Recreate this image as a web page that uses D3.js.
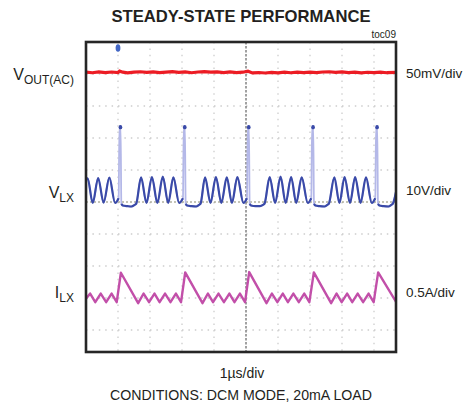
<!DOCTYPE html>
<html lang="en">
  <head>
    <meta charset="utf-8" />
    <title>Steady-State Performance</title>
    <style>
      body { margin: 0; background: #fff; }
      svg { display: block; font-family: "Liberation Sans", Arial, sans-serif; }
    </style>
  </head>
  <body>
    <script src="https://d3js.org/d3.v7.min.js"></script>
    <div id="scope"></div>
    <script>
      // channel labels and settings
      const perDiv = ["50mV/div", "10V/div", "0.5A/div"];
      const timeLabel = "1\u00b5s/div";
      const conditions = "CONDITIONS: DCM MODE, 20mA LOAD";
      const triggerTime = 1.0; // us

      // VOUT(AC): [time us, mV]
      const voutData = [
        [0, 0.5], [0.2, -0.5], [0.4, 0.8], [0.6, -0.3], [0.8, 0.6], [1.0, -0.2],
        [1.05, 2.0], [1.15, 0.3], [1.3, -0.6], [1.5, 0.4], [1.7, 1.0], [1.9, 0.2],
        [2.1, 0.9], [2.3, -0.4], [2.5, 0.5], [2.7, 1.1], [2.9, 0.0], [3.1, 0.8],
        [3.3, -0.5], [3.5, 0.6], [3.7, 1.2], [3.9, 0.3], [4.1, 0.9], [4.3, -0.2],
        [4.5, 0.7], [4.7, -0.4], [4.9, 0.3], [5.06, 1.8], [5.2, -0.8], [5.4, -0.2],
        [5.6, -0.9], [5.8, 0.1], [6.0, -0.6], [6.2, 0.3], [6.4, -0.5], [6.6, 0.4],
        [6.8, -0.3], [7.0, 0.5], [7.2, -0.4], [7.4, 0.6], [7.6, 1.0], [7.8, 0.2],
        [8.0, 0.8], [8.2, -0.3], [8.4, 0.5], [8.6, -0.6], [8.8, 0.2], [9.0, -0.4],
        [9.2, 0.3], [9.4, -0.5], [9.69, 0.2]
      ];

      // VLX: [time us, V]
      const vlxData = [
        [0, 7.2], [0.05, 7.7], [0.21, 0], [0.38, 7.8], [0.55, 0.1], [0.73, 7.9], [0.91, 0],
        [1.02, 1.5], [1.045, 24], [1.08, 24], [1.105, -0.3], [1.15, -0.8], [1.3, -1.0],
        [1.42, -1.1], [1.52, -0.6], [1.57, -0.2], [1.72, 8.0], [1.89, 0], [2.06, 8.1],
        [2.23, 0], [2.40, 8.2], [2.57, 0], [2.73, 8.0], [2.91, 0],
        [3.03, 1.5], [3.055, 24], [3.09, 24], [3.115, -0.3], [3.16, -0.8], [3.3, -1.0],
        [3.44, -1.1], [3.53, -0.6], [3.58, -0.2], [3.72, 8.0], [3.89, 0], [4.06, 8.1],
        [4.23, 0], [4.40, 8.0], [4.56, 0], [4.73, 8.1], [4.92, 0],
        [5.03, 1.5], [5.055, 24], [5.09, 24], [5.115, -0.3], [5.16, -0.8], [5.3, -1.0],
        [5.44, -1.0], [5.53, -0.6], [5.58, -0.2], [5.74, 8.1], [5.91, 0], [6.08, 8.2],
        [6.24, 0], [6.41, 8.1], [6.57, 0], [6.74, 8.0], [6.93, 0],
        [7.04, 1.5], [7.065, 24], [7.10, 24], [7.125, -0.3], [7.17, -0.8], [7.3, -1.0],
        [7.45, -1.1], [7.54, -0.6], [7.59, -0.2], [7.76, 8.0], [7.92, 0], [8.08, 8.1],
        [8.25, 0], [8.41, 8.1], [8.58, 0], [8.75, 8.0], [8.93, 0],
        [9.04, 1.5], [9.065, 24], [9.10, 24], [9.125, -0.3], [9.17, -0.8], [9.3, -1.0],
        [9.45, -1.1], [9.54, -0.6], [9.59, -0.2], [9.69, 3.5]
      ];

      // ILX: [time us, A]
      const ilxData = [
        [0, -0.01], [0.13, 0.07], [0.29, -0.065], [0.46, 0.07], [0.63, -0.065], [0.80, 0.07],
        [0.96, -0.065], [1.09, 0.395], [1.63, -0.08], [1.80, 0.07], [1.97, -0.065],
        [2.14, 0.07], [2.30, -0.065], [2.47, 0.07], [2.64, -0.065], [2.81, 0.07],
        [2.97, -0.065], [3.10, 0.40], [3.64, -0.08], [3.81, 0.07], [3.97, -0.065],
        [4.14, 0.07], [4.31, -0.065], [4.48, 0.07], [4.64, -0.065], [4.81, 0.07],
        [4.97, -0.065], [5.10, 0.405], [5.64, -0.08], [5.81, 0.07], [5.98, -0.065],
        [6.15, 0.07], [6.31, -0.065], [6.48, 0.07], [6.65, -0.065], [6.82, 0.07],
        [6.98, -0.065], [7.12, 0.40], [7.66, -0.08], [7.83, 0.07], [7.99, -0.065],
        [8.16, 0.07], [8.32, -0.065], [8.49, 0.07], [8.66, -0.065], [8.83, 0.07],
        [8.99, -0.065], [9.13, 0.40], [9.69, -0.06]
      ];

      const gridDivs = [-4, -3, -2, -1, 1, 2, 3, 4];
      const gridTimes = [1, 2, 3, 4, 6, 7, 8, 9];

      // layout
      const W = 473, H = 408;
      const plotLeft = 86, plotTop = 42, divPx = 32;
      const frameW = 310, frameH = 310;

      const svg = d3.select("#scope")
        .append("svg")
        .attr("width", W)
        .attr("height", H);

      const x = d3.scaleLinear().domain([0, 10]).range([plotLeft, plotLeft + 10 * divPx]);
      const yDiv = d3.scaleLinear().domain([-5, 5]).range([plotTop + 10 * divPx, plotTop]);

      // each channel: units/div and position (div offset)
      const yVout = d3.scaleLinear().domain([0, 50]).range([yDiv(4.05), yDiv(5.05)]);
      const yVlx = d3.scaleLinear().domain([0, 10]).range([yDiv(-0.03), yDiv(0.97)]);
      const yIlx = d3.scaleLinear().domain([0, 0.5]).range([yDiv(-3), yDiv(-2)]);

      svg.append("clipPath").attr("id", "screen")
        .append("rect")
        .attr("x", plotLeft).attr("y", plotTop)
        .attr("width", frameW).attr("height", frameH);

      const screen = svg.append("g").attr("clip-path", "url(#screen)");

      // graticule
      screen.selectAll(".gv").data(gridTimes).join("line")
        .attr("x1", d => x(d)).attr("x2", d => x(d))
        .attr("y1", plotTop).attr("y2", plotTop + frameH)
        .attr("stroke", "#cdcdcd").attr("stroke-width", 1.3)
        .attr("stroke-dasharray", "1.5 4.9");
      screen.selectAll(".gh").data(gridDivs).join("line")
        .attr("x1", plotLeft).attr("x2", plotLeft + frameW)
        .attr("y1", d => yDiv(d)).attr("y2", d => yDiv(d))
        .attr("stroke", "#cdcdcd").attr("stroke-width", 1.3)
        .attr("stroke-dasharray", "1.5 4.9");
      // centre lines
      screen.append("line")
        .attr("x1", x(5)).attr("x2", x(5))
        .attr("y1", plotTop).attr("y2", plotTop + frameH)
        .attr("stroke", "#7a7a7a").attr("stroke-width", 1.4)
        .attr("stroke-dasharray", "2.5 1.5");
      screen.append("line")
        .attr("x1", plotLeft).attr("x2", plotLeft + frameW)
        .attr("y1", yDiv(0)).attr("y2", yDiv(0))
        .attr("stroke", "#8a8a70").attr("stroke-width", 1.2)
        .attr("stroke-dasharray", "2 2");

      // VOUT trace
      screen.append("path")
        .datum(voutData)
        .attr("fill", "none")
        .attr("stroke", "#ec1c24")
        .attr("stroke-width", 3.2)
        .attr("d", d3.line().x(d => x(d[0])).y(d => yVout(d[1])));

      // VLX trace: fast edges faint, rest dark
      const vlxLine = d3.line().curve(d3.curveMonotoneX)
        .x(d => x(d[0])).y(d => yVlx(d[1]));
      screen.append("path")
        .datum(vlxData)
        .attr("fill", "none")
        .attr("stroke", "#b4b8e8")
        .attr("stroke-width", 1.8)
        .attr("d", vlxLine);
      screen.append("path")
        .datum(vlxData)
        .attr("fill", "none")
        .attr("stroke", "#3a4aa8")
        .attr("stroke-width", 2.2)
        .attr("d", vlxLine.defined(d => d[1] < 12));
      const tips = vlxData.filter(d => d[1] >= 12).filter((d, i) => i % 2 === 0);
      screen.selectAll(".tip").data(tips).join("ellipse")
        .attr("cx", d => x(d[0]) + 1)
        .attr("cy", d => yVlx(d[1]) + 1)
        .attr("rx", 1.8).attr("ry", 2.2)
        .attr("fill", "#3a4aa8");

      // ILX trace
      screen.append("path")
        .datum(ilxData)
        .attr("fill", "none")
        .attr("stroke", "#c24fa9")
        .attr("stroke-width", 2.4)
        .attr("stroke-linejoin", "round")
        .attr("d", d3.line().x(d => x(d[0])).y(d => yIlx(d[1])));

      // trigger marker
      screen.append("ellipse")
        .attr("cx", x(triggerTime)).attr("cy", plotTop + 6)
        .attr("rx", 2.4).attr("ry", 3.8)
        .attr("fill", "#4266c4");

      // frame
      svg.append("rect")
        .attr("x", plotLeft).attr("y", plotTop)
        .attr("width", frameW).attr("height", frameH)
        .attr("fill", "none")
        .attr("stroke", "#262626")
        .attr("stroke-width", 2.6);

      // title
      svg.append("text")
        .attr("x", 241).attr("y", 22)
        .attr("text-anchor", "middle")
        .attr("font-size", 17).attr("font-weight", "bold")
        .attr("fill", "#231f20")
        .attr("textLength", 259).attr("lengthAdjust", "spacingAndGlyphs")
        .text("STEADY-STATE PERFORMANCE");
      svg.append("text")
        .attr("x", 396).attr("y", 37.5)
        .attr("text-anchor", "end")
        .attr("font-size", 10).attr("fill", "#231f20")
        .text("toc09");

      // left labels: main letter + subscript
      const leftLab = [
        { main: "V", sub: "OUT(AC)", y: 80 },
        { main: "V", sub: "LX", y: 198 },
        { main: "I", sub: "LX", y: 298 }
      ];
      leftLab.forEach(l => {
        const t = svg.append("text")
          .attr("x", 74).attr("y", l.y)
          .attr("text-anchor", "end")
          .attr("fill", "#231f20");
        t.append("tspan").attr("font-size", 16).text(l.main);
        t.append("tspan").attr("font-size", 12).attr("dy", 4).text(l.sub);
      });

      // right labels
      const rightY = [78, 195, 297];
      svg.selectAll(".rl").data(perDiv).join("text")
        .attr("x", 406).attr("y", (d, i) => rightY[i])
        .attr("font-size", 13.5).attr("fill", "#231f20")
        .text(d => d);

      // bottom labels
      svg.append("text")
        .attr("x", 242).attr("y", 378)
        .attr("text-anchor", "middle")
        .attr("font-size", 14).attr("fill", "#231f20")
        .text(timeLabel);
      svg.append("text")
        .attr("x", 241).attr("y", 400)
        .attr("text-anchor", "middle")
        .attr("font-size", 15).attr("fill", "#231f20")
        .attr("textLength", 262).attr("lengthAdjust", "spacingAndGlyphs")
        .text(conditions);
    </script>
  </body>
</html>
